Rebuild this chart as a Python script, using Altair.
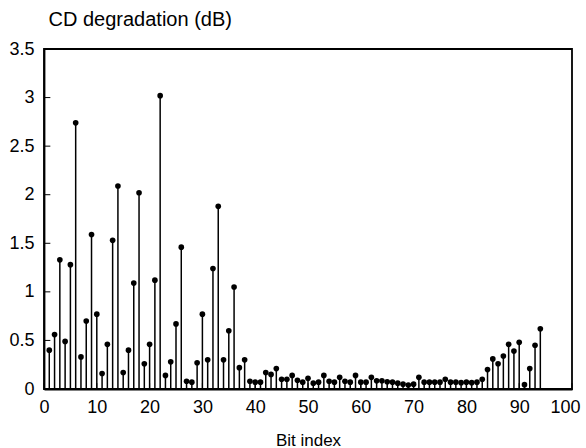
import altair as alt
import pandas as pd

bits = list(range(1, 95))
degradation = [
    0.40, 0.56, 1.33, 0.49, 1.28, 2.74, 0.33, 0.70, 1.59, 0.77,
    0.16, 0.46, 1.53, 2.09, 0.17, 0.40, 1.09, 2.02, 0.26, 0.46,
    1.12, 3.02, 0.14, 0.28, 0.67, 1.46, 0.08, 0.07, 0.27, 0.77,
    0.30, 1.24, 1.88, 0.30, 0.60, 1.05, 0.22, 0.30, 0.08, 0.07,
    0.07, 0.17, 0.15, 0.21, 0.10, 0.10, 0.14, 0.09, 0.07, 0.11,
    0.06, 0.07, 0.14, 0.08, 0.07, 0.12, 0.08, 0.07, 0.14, 0.07,
    0.07, 0.12, 0.085, 0.085, 0.075, 0.07, 0.06, 0.05, 0.04, 0.05,
    0.12, 0.07, 0.07, 0.07, 0.07, 0.10, 0.07, 0.07, 0.065, 0.07,
    0.065, 0.07, 0.10, 0.20, 0.31, 0.26, 0.34, 0.46, 0.39, 0.48,
    0.045, 0.21, 0.45, 0.62,
]
x_ticks = [0, 10, 20, 30, 40, 50, 60, 70, 80, 90, 100]
y_ticks = [0, 0.5, 1, 1.5, 2, 2.5, 3, 3.5]

FONT = "Liberation Sans"
FS = 18

df = pd.DataFrame({"bit": bits, "deg": degradation})
xt = pd.DataFrame({"t": x_ticks})
yt = pd.DataFrame({"t": y_ticks})

xscale = alt.Scale(domain=[0, 100], nice=False, zero=False)
yscale = alt.Scale(domain=[0, 3.5], nice=False)

xaxis = alt.Axis(values=x_ticks, grid=False, tickSize=0, labelPadding=9,
                 labelFont=FONT, labelFontSize=FS, labelColor="black",
                 labelOffset={"condition": {"test": "datum.value == 100", "value": -7}, "value": 0},
                 title="Bit index", titleFont=FONT, titleFontSize=17,
                 titleFontWeight="normal", titleColor="black",
                 titleY=56, titleBaseline="alphabetic",
                 domainColor="black", domainWidth=1.8, labelFlush=False)
yaxis = alt.Axis(values=y_ticks, grid=False, tickSize=0, labelPadding=10,
                 labelFont=FONT, labelFontSize=FS, labelColor="black",
                 labelExpr="'' + datum.value",
                 title="CD degradation (dB)", titleFont=FONT, titleFontSize=20,
                 titleFontWeight="normal", titleColor="black",
                 titleAngle=0, titleAlign="left", titleBaseline="alphabetic",
                 titleX=4, titleY=-24,
                 domainColor="black", domainWidth=1.8, labelFlush=False)

stems = alt.Chart(df).mark_rule(color="black", strokeWidth=1.5).encode(
    x=alt.X("bit:Q", scale=xscale, axis=xaxis),
    y=alt.Y("deg:Q", scale=yscale, axis=yaxis),
    y2=alt.datum(0),
)
heads = alt.Chart(df).mark_circle(color="black", opacity=1, size=32).encode(
    x=alt.X("bit:Q", scale=xscale),
    y=alt.Y("deg:Q", scale=yscale),
)
xticks_l = alt.Chart(xt).mark_rule(color="black", strokeWidth=1).encode(
    x=alt.X("t:Q", scale=xscale),
    y=alt.datum(0),
    y2=alt.datum(0.06),
)
yticks_l = alt.Chart(yt).mark_rule(color="black", strokeWidth=1).encode(
    y=alt.Y("t:Q", scale=yscale),
    x=alt.datum(0),
    x2=alt.datum(1.2),
)

chart = alt.layer(stems, heads, xticks_l, yticks_l).properties(
    width=528, height=340,
    autosize=alt.AutoSizeParams(type="none"),
    padding={"left": 44, "top": 49, "right": 14, "bottom": 59},
    background="white",
).configure_view(stroke="black", strokeWidth=1.8)

chart.save("out.html", embed_options={"renderer": "svg", "actions": False})
